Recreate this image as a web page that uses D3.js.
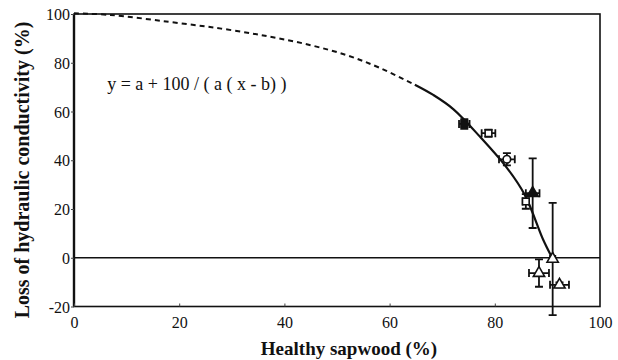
<!DOCTYPE html>
<html>
<head>
  <meta charset="utf-8">
  <script src="https://cdn.jsdelivr.net/npm/d3@7"></script>
  <style>
    body { margin: 0; background: #fff; }
  </style>
</head>
<body>
  <svg width="618" height="360" id="chart"></svg>
  <script>
    // data
    const xTicks = [0, 20, 40, 60, 80, 100];
    const yTicks = [-20, 0, 20, 40, 60, 80, 100];

    // fitted curve, dashed where extrapolated
    const dashedCurve = [[0, 100.3], [7, 99.6], [18, 96.8], [28, 94], [37, 90.8], [45, 87.2], [52, 83], [58, 78], [64.8, 71]];
    const solidCurve = [[64.8, 71], [68.3, 66.8], [72.1, 61], [77.2, 49.6], [82.3, 36.9], [85.7, 25.8], [89.2, 7.4], [90.9, 0]];

    // measured points: x, y, x error, y error, marker
    const pts = [
      { x: 74.2, y: 54.9, ex: 1.0, ey: 2.0, m: 'squareFilled' },
      { x: 78.8, y: 51.1, ex: 1.3, ey: 1.5, m: 'squareOpen' },
      { x: 82.3, y: 40.4, ex: 1.5, ey: 2.5, m: 'circleOpen' },
      { x: 87.2, y: 26.5, ex: 1.3, ey: 14.3, m: 'triFilled' },
      { x: 85.9, y: 23.1, ex: 0.6, ey: 3.0, m: 'squareOpen' },
      { x: 91.0, y: -0.5, ex: 0.5, ey: 23.0, m: 'triOpen' },
      { x: 88.4, y: -6.3, ex: 1.9, ey: 5.6, m: 'triOpen' },
      { x: 92.3, y: -11.1, ex: 1.8, ey: 1.0, m: 'triOpen' }
    ];

    const serif = '"Liberation Serif", "Times New Roman", serif';
    const svg = d3.select('#chart');
    const margin = { top: 14, right: 18, bottom: 53.5, left: 74 };
    const width = 618, height = 360;
    const innerWidth = width - margin.left - margin.right;
    const innerHeight = height - margin.top - margin.bottom;

    const xScale = d3.scaleLinear().domain([0, 100]).range([0, innerWidth]);
    const yScale = d3.scaleLinear().domain([-20, 100]).range([innerHeight, 0]);

    const g = svg.append('g').attr('transform', `translate(${margin.left},${margin.top})`);

    // frame
    g.append('rect')
      .attr('width', innerWidth).attr('height', innerHeight)
      .attr('fill', 'none').attr('stroke', '#111').attr('stroke-width', 1.6);
    g.append('line')
      .attr('x1', 0).attr('x2', 0).attr('y1', 0).attr('y2', innerHeight)
      .attr('stroke', '#111').attr('stroke-width', 2.4);

    // zero line
    g.append('line')
      .attr('x1', 0).attr('x2', innerWidth)
      .attr('y1', yScale(0)).attr('y2', yScale(0))
      .attr('stroke', '#111').attr('stroke-width', 1.6);

    // axes
    const xAxis = d3.axisBottom(xScale).tickValues(xTicks).tickSizeInner(-3).tickSizeOuter(0).tickPadding(10);
    const yAxis = d3.axisLeft(yScale).tickValues(yTicks).tickSize(3).tickPadding(1).tickFormat(d => String(d));

    const xg = g.append('g').attr('transform', `translate(0,${innerHeight})`).call(xAxis);
    const yg = g.append('g').call(yAxis);
    [xg, yg].forEach(a => {
      a.attr('font-family', null);
      a.select('.domain').remove();
      a.selectAll('line').attr('stroke', '#444').attr('stroke-width', 1);
      a.selectAll('text')
        .attr('fill', '#111')
        .style('font-family', serif)
        .style('font-size', '16px');
    });
    yg.selectAll('text').attr('dy', '0.35em');

    // curve
    const line = d3.line().x(d => xScale(d[0])).y(d => yScale(d[1])).curve(d3.curveCatmullRom.alpha(0.5));
    g.append('path')
      .attr('d', line(dashedCurve))
      .attr('fill', 'none').attr('stroke', '#111').attr('stroke-width', 2)
      .attr('stroke-dasharray', '5,4');
    g.append('path')
      .attr('d', line(solidCurve))
      .attr('fill', 'none').attr('stroke', '#111').attr('stroke-width', 2.2);

    // error bars
    const cap = 4;
    const eb = g.append('g').attr('stroke', '#111').attr('stroke-width', 1.8).attr('fill', 'none');
    pts.forEach(d => {
      const cx = xScale(d.x), cy = yScale(d.y);
      const x0 = xScale(d.x - d.ex), x1 = xScale(d.x + d.ex);
      const y0 = yScale(d.y - d.ey), y1 = yScale(d.y + d.ey);
      eb.append('path').attr('d',
        `M${x0},${cy}H${x1}M${x0},${cy - cap}V${cy + cap}M${x1},${cy - cap}V${cy + cap}` +
        `M${cx},${y0}V${y1}M${cx - cap},${y0}H${cx + cap}M${cx - cap},${y1}H${cx + cap}`);
    });

    // markers
    const sym = {
      squareFilled: d3.symbolSquare, squareOpen: d3.symbolSquare, circleOpen: d3.symbolCircle,
      triFilled: d3.symbolTriangle, triOpen: d3.symbolTriangle
    };
    g.append('g').selectAll('path')
      .data(pts)
      .join('path')
      .attr('transform', d => `translate(${xScale(d.x)},${yScale(d.y)})`)
      .attr('d', d => d3.symbol().type(sym[d.m]).size(d.m.startsWith('tri') ? 55 : 45)())
      .attr('fill', d => d.m.endsWith('Filled') ? '#111' : '#fff')
      .attr('stroke', '#111').attr('stroke-width', 1.6);

    // equation
    g.append('text')
      .attr('x', xScale(6.3)).attr('y', yScale(68.8))
      .style('font-family', serif)
      .style('font-size', '18px').attr('fill', '#111')
      .text('y = a + 100 / ( a ( x - b) )');

    // axis titles
    svg.append('text')
      .attr('x', margin.left + innerWidth / 2 + 12).attr('y', 355)
      .attr('text-anchor', 'middle')
      .style('font-family', serif)
      .style('font-size', '19px').style('font-weight', 'bold').attr('fill', '#111')
      .text('Healthy sapwood (%)');
    svg.append('text')
      .attr('transform', 'translate(29,170) rotate(-90)')
      .attr('text-anchor', 'middle')
      .style('font-family', serif)
      .style('font-size', '20px').style('font-weight', 'bold').attr('fill', '#111')
      .text('Loss of hydraulic conductivity (%)');
  </script>
</body>
</html>
